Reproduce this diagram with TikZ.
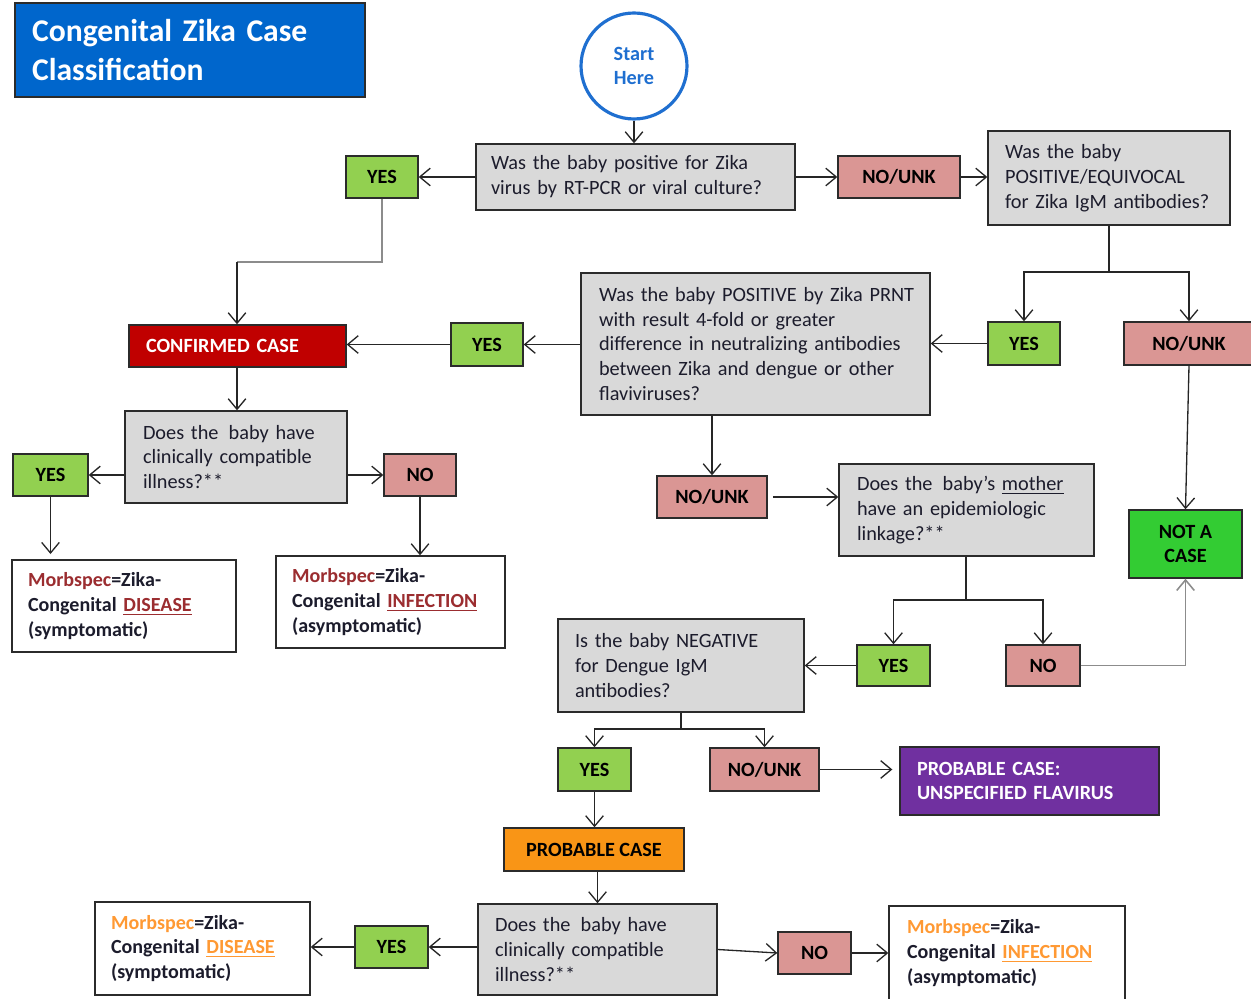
\documentclass[tikz,border=0pt]{standalone}
\usepackage{fontspec}
\setmainfont{Carlito}
\usetikzlibrary{arrows.meta}
\definecolor{titleblue}{HTML}{0066CC}
\definecolor{startblue}{HTML}{1F6FD0}
\definecolor{qgray}{HTML}{D9D9D9}
\definecolor{yesgreen}{HTML}{92D050}
\definecolor{nopink}{HTML}{DA9694}
\definecolor{ncgreen}{HTML}{33CC33}
\definecolor{confred}{HTML}{C00000}
\definecolor{pflavpurple}{HTML}{7030A0}
\definecolor{probor}{HTML}{F99516}
\definecolor{mred}{HTML}{9B2D30}
\definecolor{morange}{HTML}{FF9933}
\definecolor{bordercol}{HTML}{2B2B2B}
\definecolor{linecol}{HTML}{262626}
\definecolor{glinecol}{HTML}{8C8C8C}
\definecolor{qtext}{HTML}{1C1C2C}
\newcommand\qfnt{\fontsize{11.55}{14.2}\selectfont}
\newcommand\rfnt{\fontsize{11.4}{14.2}\selectfont\bfseries}
\newcommand\lfnt{\fontsize{11.5}{14}\selectfont\bfseries}
\tikzset{
  boxbase/.style={draw=bordercol, line width=0.8pt, rectangle, inner ysep=0pt},
  qbox/.style={boxbase, fill=qgray, font=\qfnt, align=left, text=qtext},
  resbox/.style={boxbase, fill=white, font=\rfnt, align=left, text=qtext, inner xsep=0.32cm},
  labbox/.style={boxbase, font=\lfnt, align=center, inner xsep=0pt, minimum height=0.84cm},
  yesbox/.style={labbox, fill=yesgreen, minimum width=1.46cm},
  nobox/.style={labbox, fill=nopink},
  arr/.style={draw=linecol, line width=0.75pt, -{Straight Barb[length=6pt,width=10pt]}},
  plainline/.style={draw=linecol, line width=0.75pt},
  gline/.style={draw=glinecol, line width=0.9pt},
  garr/.style={draw=glinecol, line width=0.9pt, -{Straight Barb[length=6pt,width=10pt]}}
}
\begin{document}
\begin{tikzpicture}[x=0.02cm, y=-0.02cm]
\useasboundingbox (0,0) rectangle (1251,999);

% title
\node[boxbase, fill=titleblue, text=white, font=\fontsize{18}{22.4}\selectfont\bfseries,
  minimum height=1.88cm, inner xsep=0.34cm, text width=6.32cm, align=left] (title) at (190,50)
  {Congenital Zika Case\\Classification};

% start
\node[circle, draw=startblue, line width=1.8pt, minimum size=2.12cm, text=startblue,
  font=\fontsize{11.5}{13.8}\selectfont\bfseries, align=center, inner sep=0pt] (start) at (634,66)
  {Start\\Here};

% questions
\node[qbox, minimum height=1.32cm, inner xsep=0.3cm, text width=5.78cm] (q1) at (635.5,177)
  {Was the baby positive for Zika\\virus by RT-PCR or viral culture?};
\node[qbox, minimum height=1.88cm, inner xsep=0.34cm, text width=4.16cm] (q2) at (1109,178)
  {Was the baby\\POSITIVE/EQUIVOCAL\\for Zika IgM antibodies?};
\node[qbox, minimum height=2.84cm, inner xsep=0.36cm, text width=6.26cm] (q3) at (755.5,344)
  {\mbox{Was the baby POSITIVE by Zika PRNT}\\with result 4-fold or greater\\\mbox{difference in neutralizing antibodies}\\between Zika and dengue or other\\flaviviruses?};
\node[qbox, minimum height=1.84cm, inner xsep=0.36cm, text width=3.72cm] (q4) at (236,457)
  {Does the\hspace{0.5em}baby have\\clinically compatible\\illness?**};
\node[qbox, minimum height=1.84cm, inner xsep=0.36cm, text width=4.38cm] (q5) at (966.5,510)
  {Does the\hspace{0.5em}baby’s \underline{mother}\\have an epidemiologic\\linkage?**};
\node[qbox, minimum height=1.86cm, inner xsep=0.34cm, text width=4.24cm] (q6) at (681,665.5)
  {Is the baby NEGATIVE\\for Dengue IgM\\antibodies?};
\node[qbox, minimum height=1.82cm, inner xsep=0.34cm, text width=4.10cm] (q7) at (597.5,949.5)
  {Does the\hspace{0.5em}baby have\\clinically compatible\\illness?**};

% yes / no labels
\node[yesbox, minimum width=1.44cm] (yes1) at (382,177) {YES};
\node[nobox, minimum width=2.44cm] (nu1) at (899,177) {NO/UNK};
\node[yesbox, minimum width=1.44cm, minimum height=0.86cm] (yes2) at (1024,343.5) {YES};
\node[nobox, minimum width=2.6cm, minimum height=0.86cm] (nu2) at (1189,343.5) {NO/UNK};
\node[yesbox, minimum width=1.44cm, minimum height=0.86cm] (yes3) at (487,344.5) {YES};
\node[yesbox, minimum width=1.5cm] (yes4) at (50.5,475) {YES};
\node[nobox, minimum width=1.44cm] (no4) at (420,475) {NO};
\node[nobox, minimum width=2.2cm] (nu3) at (712,497) {NO/UNK};
\node[yesbox, minimum width=1.46cm, minimum height=0.82cm] (yes5) at (893.5,665.5) {YES};
\node[nobox, minimum width=1.48cm, minimum height=0.82cm] (no5) at (1043,665.5) {NO};
\node[yesbox, minimum width=1.46cm, minimum height=0.86cm] (yes6) at (594.5,769.5) {YES};
\node[nobox, minimum width=2.18cm, minimum height=0.86cm] (nu6) at (764.5,769.5) {NO/UNK};
\node[yesbox, minimum width=1.46cm] (yes7) at (391.5,947) {YES};
\node[nobox, minimum width=1.46cm] (no7) at (814.5,953) {NO};

% outcomes
\node[boxbase, fill=confred, text=white, font=\lfnt, minimum height=0.84cm, inner xsep=0.34cm,
  text width=3.66cm, align=left] (conf) at (237.5,346) {CONFIRMED CASE};
\node[labbox, fill=ncgreen, minimum width=2.26cm, minimum height=1.36cm] (nac) at (1185.5,544) {NOT A\\CASE};
\node[boxbase, fill=pflavpurple, text=white, font=\lfnt, minimum height=1.36cm, inner xsep=0.34cm,
  text width=4.5cm, align=left] (pflav) at (1029.5,781) {PROBABLE CASE:\\UNSPECIFIED FLAVIRUS};
\node[labbox, fill=probor, minimum width=3.6cm, minimum height=0.86cm] (prob) at (594,849.5) {PROBABLE CASE};

\node[resbox, minimum height=1.84cm, text width=3.84cm] (r1) at (124,606)
  {\textcolor{mred}{Morbspec}=Zika-\\Congenital \textcolor{mred}{\underline{DISEASE}}\\(symptomatic)};
\node[resbox, minimum height=1.84cm, text width=3.94cm] (r2) at (390.5,602)
  {\textcolor{mred}{Morbspec}=Zika-\\Congenital \textcolor{mred}{\underline{INFECTION}}\\(asymptomatic)};
\node[resbox, minimum height=1.86cm, text width=3.66cm] (r3) at (202.5,948.5)
  {\textcolor{morange}{Morbspec}=Zika-\\Congenital \textcolor{morange}{\underline{DISEASE}}\\(symptomatic)};
\node[resbox, minimum height=1.88cm, inner xsep=0.36cm, text width=4.0cm] (r4) at (1007,953)
  {\textcolor{morange}{Morbspec}=Zika-\\Congenital \textcolor{morange}{\underline{INFECTION}}\\(asymptomatic)};

% junction coordinates
\coordinate (c1) at (237,262);
\coordinate (j2) at (1109,272);
\coordinate (j5) at (966,600);
\coordinate (j6) at (681,729);

% connectors
\draw[arr] (start) -- (start |- q1.north);
\draw[arr] (q1.west) -- (yes1.east);
\draw[arr] (q1.east) -- (nu1.west);
\draw[arr] (nu1.east) -- (nu1.east -| q2.west);
\draw[gline] (yes1.south) |- (c1);
\draw[arr] (c1) -- (c1 |- conf.north);
\draw[plainline] (q2.south) -- (j2);
\draw[arr] (j2) -| (yes2.north);
\draw[arr] (j2) -| (nu2.north);
\draw[arr] (yes2.west) -- (yes2.west -| q3.east);
\draw[arr] (q3.west |- yes3) -- (yes3.east);
\draw[arr] (yes3.west) -- (yes3.west -| conf.east);
\draw[arr] (conf.south -| c1) -- (c1 |- q4.north);
\draw[arr] (q4.west |- yes4) -- (yes4.east);
\draw[arr] (q4.east |- no4) -- (no4.west);
\draw[arr, shorten >=3pt] (yes4.south) -- (yes4.south |- r1.north);
\draw[arr] (no4.south) -- (no4.south |- r2.north);
\draw[arr] (q3.south -| nu3) -- (nu3.north);
\draw[arr, shorten <=3pt] (nu3.east) -- (nu3.east -| q5.west);
\draw[arr] (nu2.south) -- (nac.north);
\draw[plainline] (q5.south -| j5) -- (j5);
\draw[arr] (j5) -| (yes5.north);
\draw[arr] (j5) -| (no5.north);
\draw[garr] (no5.east) -| (nac.south);
\draw[arr] (yes5.west) -- (yes5.west -| q6.east);
\draw[plainline] (q6.south) -- (j6);
\draw[arr] (j6) -| (yes6.north);
\draw[arr] (j6) -| (nu6.north);
\draw[arr, shorten >=4pt] (nu6.east) -- (nu6.east -| pflav.west);
\draw[arr] (yes6.south) -- (yes6.south |- prob.north);
\draw[arr] (prob.south -| q7.north) -- (q7.north);
\draw[arr] (q7.west |- yes7) -- (yes7.east);
\draw[arr] (yes7.west) -- (yes7.west -| r3.east);
\draw[arr] (q7.east) -- (no7.west);
\draw[arr] (no7.east) -- (no7.east -| r4.west);
\end{tikzpicture}
\end{document}
